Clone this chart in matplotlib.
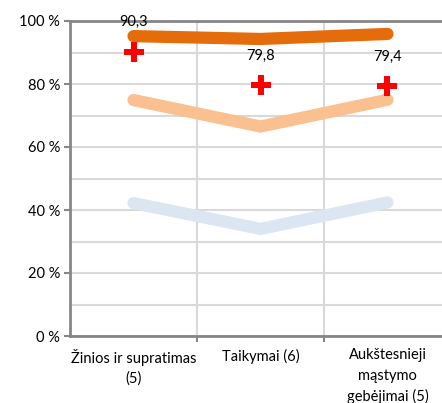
import matplotlib
matplotlib.use("Agg")
import matplotlib.pyplot as plt
from matplotlib.ticker import FuncFormatter, MultipleLocator

# values (percent)
categories = ["Žinios ir supratimas\n(5)", "Taikymai (6)", "Aukštesnieji\nmąstymo\ngebėjimai (5)"]
top_band = [95.2, 94.3, 95.9]
mid_band = [74.9, 66.5, 75.0]
low_band = [42.2, 34.0, 42.4]
school = [90.3, 79.8, 79.4]
school_labels = ["90,3", "79,8", "79,4"]

plt.rcParams["font.family"] = ["Lato", "DejaVu Sans"]
plt.rcParams["font.size"] = 10.5

fig = plt.figure(figsize=(4.42, 4.03), dpi=100)
ax = fig.add_axes([70 / 442, 67 / 403, 381 / 442, 315 / 403])

x = list(range(len(categories)))
lw = 8.8
ax.plot(x, low_band, color="#DCE6F2", lw=lw, solid_capstyle="round", solid_joinstyle="miter", zorder=3)
ax.plot(x, mid_band, color="#FAC090", lw=lw, solid_capstyle="round", solid_joinstyle="miter", zorder=3)
ax.plot(x, top_band, color="#E46C0A", lw=lw, solid_capstyle="round", solid_joinstyle="miter", zorder=3)
ax.plot(x, school, ls="none", marker="P", ms=15, color="#FF0000", mew=0, zorder=4)

for xi, v, lab in zip(x, school, school_labels):
    ax.annotate(lab, (xi, v), xytext=(0, 21), textcoords="offset points",
                ha="center", va="center", color="#000000", zorder=5)

ax.set_xlim(-0.5, 2.5)
ax.set_ylim(0, 100)
ax.set_xticks(x)
ax.set_xticklabels(categories, linespacing=1.55)
ax.set_xticks([0.5, 1.5, 2.5], minor=True)
ax.tick_params(axis="x", which="major", length=0, pad=9)
ax.tick_params(axis="x", which="minor", length=4, width=1.5, color="#868686")

ax.yaxis.set_major_locator(MultipleLocator(20))
ax.yaxis.set_minor_locator(MultipleLocator(10))
ax.yaxis.set_major_formatter(FuncFormatter(lambda v, _: f"{int(v)} %"))
ax.tick_params(axis="y", which="major", length=4, width=1.5, color="#868686", pad=3)
ax.tick_params(axis="y", which="minor", length=0)

ax.grid(True, which="both", axis="y", color="#D9D9D9", lw=1.5, zorder=0)
ax.grid(True, which="minor", axis="x", color="#D9D9D9", lw=1.5, zorder=0)
ax.set_axisbelow(True)

for side in ["left", "bottom", "top", "right"]:
    ax.spines[side].set_color("#868686")
    ax.spines[side].set_linewidth(2)

fig.savefig("out.png", dpi=100)
